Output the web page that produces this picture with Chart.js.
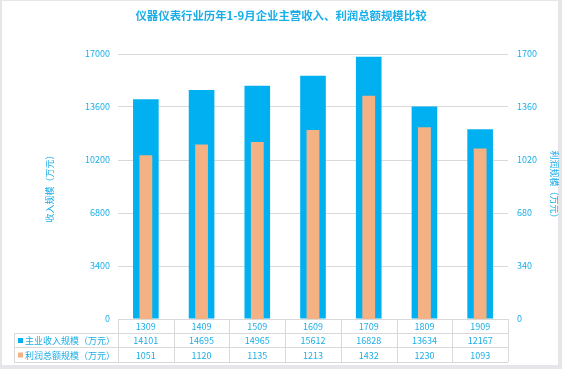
<!DOCTYPE html>
<html>
<head>
<meta charset="utf-8">
<script src="https://cdn.jsdelivr.net/npm/chart.js@4"></script>
<style>
  html, body { margin: 0; padding: 0; background: #e6e6ea; }
  #wrap { width: 562px; height: 369px; }
</style>
</head>
<body>
<div id="wrap"><canvas id="myChart" width="562" height="369"></canvas></div>
<script>
// Data: years (label), revenue and profit (万元)
const years = ['1309', '1409', '1509', '1609', '1709', '1809', '1909'];
const revenue = [14101, 14695, 14965, 15612, 16828, 13634, 12167];
const profit = [1051, 1120, 1135, 1213, 1432, 1230, 1093];
const revenueName = '主业收入规模（万元）';
const profitName = '利润总额规模（万元）';
const chartTitle = '仪器仪表行业历年1-9月企业主营收入、利润总额规模比较';

const BLUE = '#00b0f0';
const ORANGE = '#f4b183';
const TEXT = '#1aaee8';
const LINE = '#d9d9d9';
const FONT = '"Noto Sans CJK SC", "Noto Sans", sans-serif';

// white card with a gray frame behind the chart, plus the centered title
const framePlugin = {
    id: 'frame',
    beforeDraw(chart) {
        const c = chart.ctx;
        c.save();
        c.fillStyle = '#e6e6ea';
        c.fillRect(0, 0, chart.width, chart.height);
        c.fillStyle = '#ffffff';
        c.fillRect(2, 1, 556, 364);
        c.fillStyle = TEXT;
        c.font = 'bold 11.4px ' + FONT;
        c.textAlign = 'center';
        c.textBaseline = 'middle';
        c.fillText(chartTitle, chart.width / 2, 16);
        c.restore();
    }
};

// data table under the plot, aligned to the x scale
const tablePlugin = {
    id: 'dataTable',
    afterDraw(chart) {
        const c = chart.ctx;
        const x = chart.scales.x;
        const area = chart.chartArea;
        const colW = (area.right - area.left) / years.length;
        const r0 = area.bottom, r1 = r0 + 14, r2 = r1 + 14, r3 = r2 + 15;
        const legLeft = 14;

        c.save();
        c.strokeStyle = LINE;
        c.lineWidth = 1;
        c.beginPath();
        c.moveTo(area.left, r0 + 0.5); c.lineTo(area.right, r0 + 0.5);
        [r1, r2, r3].forEach(y => { c.moveTo(legLeft, y + 0.5); c.lineTo(area.right, y + 0.5); });
        for (let i = 0; i <= years.length; i++) {
            const xx = Math.round(area.left + i * colW) + 0.5;
            c.moveTo(xx, r0); c.lineTo(xx, r3);
        }
        c.moveTo(legLeft + 0.5, r1); c.lineTo(legLeft + 0.5, r3);
        c.stroke();

        c.fillStyle = TEXT;
        c.font = '9px ' + FONT;
        c.textAlign = 'center';
        c.textBaseline = 'middle';
        years.forEach((yr, i) => {
            const cx = x.getPixelForValue(i);
            c.fillText(yr, cx, (r0 + r1) / 2 + 1);
            c.fillText(String(revenue[i]), cx, (r1 + r2) / 2 + 1);
            c.fillText(String(profit[i]), cx, (r2 + r3) / 2 + 1);
        });

        // legend keys
        c.textAlign = 'left';
        c.fillStyle = BLUE;
        c.fillRect(18, (r1 + r2) / 2 - 2, 5, 5);
        c.fillStyle = ORANGE;
        c.fillRect(18, (r2 + r3) / 2 - 2, 5, 5);
        c.fillStyle = TEXT;
        c.fillText(revenueName, 25, (r1 + r2) / 2 + 1);
        c.fillText(profitName, 25, (r2 + r3) / 2 + 1);
        c.restore();
    }
};

const plainTick = v => String(v);

const config = {
    type: 'bar',
    data: {
        labels: years,
        datasets: [{
            label: revenueName,
            data: revenue,
            backgroundColor: BLUE,
            yAxisID: 'y',
            grouped: false,
            categoryPercentage: 1,
            barPercentage: 0.46,
            order: 2,
        }, {
            label: profitName,
            data: profit,
            backgroundColor: ORANGE,
            yAxisID: 'y1',
            grouped: false,
            categoryPercentage: 1,
            barPercentage: 0.23,
            order: 1,
        }]
    },
    options: {
        responsive: false,
        animation: false,
        layout: {
            padding: { top: 54, bottom: 50, left: 44, right: 2 }
        },
        plugins: {
            legend: { display: false },
            tooltip: { enabled: false },
            title: { display: false }
        },
        scales: {
            x: {
                display: false,
            },
            y: {
                position: 'left',
                min: 0,
                max: 17000,
                border: { display: false },
                grid: { color: LINE, drawTicks: false },
                ticks: {
                    stepSize: 3400,
                    color: TEXT,
                    padding: 8,
                    callback: plainTick,
                    font: { family: FONT, size: 9 }
                },
                title: {
                    display: true,
                    text: '收入规模（万元）',
                    color: TEXT,
                    padding: 0,
                    font: { family: FONT, size: 9 }
                },
                afterFit(scale) { scale.width = 118 - 44; }
            },
            y1: {
                position: 'right',
                min: 0,
                max: 1700,
                border: { display: false },
                grid: { display: false, drawTicks: false },
                ticks: {
                    stepSize: 340,
                    color: TEXT,
                    padding: 9,
                    callback: plainTick,
                    font: { family: FONT, size: 9 }
                },
                title: {
                    display: true,
                    text: '利润规模（万元）',
                    color: TEXT,
                    padding: 0,
                    font: { family: FONT, size: 9 }
                },
                afterFit(scale) { scale.width = 562 - 508 - 2; }
            }
        }
    },
    plugins: [framePlugin, tablePlugin]
};

const ctx = document.querySelector('#myChart');
let myChart = new Chart(ctx, config);
</script>
</body>
</html>
